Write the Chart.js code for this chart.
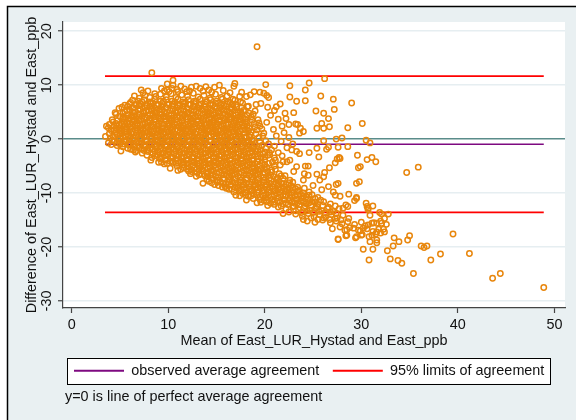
<!DOCTYPE html>
<html>
<head>
<meta charset="utf-8">
<script src="https://cdn.jsdelivr.net/npm/chart.js@4.4.1/dist/chart.umd.min.js"></script>
<style>
  html, body { margin: 0; padding: 0; background: #ffffff; }
  #wrap { width: 576px; height: 420px; position: relative; }
</style>
</head>
<body>
<div id="wrap"><canvas id="baChart" width="576" height="420"></canvas></div>
<script>
/*** Bland-Altman: East_LUR_Hystad vs East_ppb */
var meanDiff = -0.95;
var loaUpper = 11.67;
var loaLower = -13.58;
var meanRange = [3.45, 48.9];
var xTicks = [0, 10, 20, 30, 40, 50];
var yTicks = [-30, -20, -10, 0, 10, 20];
var legendNames = ['observed average agreement', '95% limits of agreement'];
var noteText = 'y=0 is line of perfect average agreement';

// [mean, difference] pairs
var edgeUpper = [
  [7.2,9.1],[7.4,8.6],[7.9,8.9],[8.6,8.4],[9.3,9.4],[9.6,8.9],[9.9,10.2],[10.5,10.9],[10.5,10.0],[10.9,9.2],
  [11.3,9.8],[11.9,8.8],[12.4,9.6],[12.9,9.8],[13.6,8.9],[14.2,9.1],[14.8,9.6],[15.3,10.0],[15.7,9.0],[16.4,8.6],
  [16.8,9.8],[16.9,10.3],[17.6,8.7],[18.1,7.9],[18.5,8.2],[9.9,9.1],[10.4,9.4],[11.0,8.8],[11.7,9.3],[12.2,8.9],
  [13.3,9.4],[13.9,9.7],[14.5,8.7],[10.1,8.8],[8.3,12.3]
];

var rowsMain = [
  [6.5,8.0],[7.0,7.6],[7.6,8.1],[8.1,7.7],[8.7,7.9],[9.2,8.3],[9.8,7.8],[10.3,8.4],[10.8,7.7],[11.4,8.2],
  [12.0,7.9],[12.6,8.5],[13.1,7.8],[13.7,8.1],[14.3,7.6],[14.9,8.3],[15.5,7.7],[16.1,8.0],[16.7,7.4],[17.4,7.9],
  [5.5,6.3],[6.1,6.8],[6.7,6.4],[7.3,6.9],[7.8,6.2],[8.4,6.7],[9.0,6.4],[9.5,7.0],[10.1,6.5],[10.7,6.9],
  [11.2,6.3],[11.8,6.8],[12.3,6.4],[12.9,7.0],[13.4,6.5],[14.0,6.9],[14.6,6.3],[15.2,6.7],[15.8,6.2],[16.4,6.8],
  [17.0,6.4],[17.7,6.7],[18.3,6.1],
  [4.9,5.7],[5.5,5.1],[6.0,5.4],[6.6,5.0],[7.1,5.6],[7.7,5.2],[8.3,5.5],[8.8,4.9],[9.4,5.4],[9.9,5.0],
  [10.5,5.6],[11.0,5.1],[11.6,5.5],[12.1,4.9],[12.7,5.3],[13.2,5.7],[13.8,5.0],[14.4,5.4],[14.9,4.9],[15.5,5.5],
  [16.1,5.1],[16.6,5.6],[17.2,4.9],[17.8,5.3],[18.4,4.8],[19.0,5.2],
  [4.5,4.9],[5.0,4.2],[5.6,3.9],[6.2,4.4],[6.7,3.8],[7.3,4.3],[7.8,3.9],[8.4,4.5],[9.0,3.9],[9.5,4.2],
  [10.1,3.8],[10.6,4.4],[11.2,4.0],[11.7,4.5],[12.3,3.8],[12.8,4.2],[13.4,3.9],[14.0,4.4],[14.5,3.8],[15.1,4.3],
  [15.7,3.9],[16.2,4.4],[16.8,3.8],[17.4,4.2],[18.0,3.7],[18.6,4.1],[19.3,3.6],
  [3.9,2.7],[4.3,3.2],[4.9,2.6],[5.4,3.1],[6.0,2.8],[6.5,3.3],[7.1,2.7],[7.6,3.0],[8.2,2.6],[8.7,3.2],
  [9.3,2.8],[9.8,3.3],[10.4,2.7],[10.9,3.1],[11.5,2.6],[12.0,3.2],[12.6,2.8],[13.1,3.3],[13.7,2.7],[14.3,3.0],
  [14.8,2.6],[15.4,3.2],[16.0,2.7],[16.5,3.1],[17.1,2.6],[17.7,3.0],[18.2,2.5],[18.9,2.9],[19.5,2.4],
  [3.6,2.4],[4.1,1.6],[4.6,2.0],[5.2,1.5],[5.7,1.9],[6.3,1.4],[6.8,2.0],[7.4,1.6],[7.9,2.1],[8.5,1.5],
  [9.0,1.9],[9.6,1.4],[10.2,2.0],[10.7,1.6],[11.3,2.1],[11.8,1.5],[12.4,1.9],[12.9,1.4],[13.5,2.0],[14.1,1.6],
  [14.6,2.1],[15.2,1.5],[15.7,1.9],[16.3,1.4],[16.9,2.0],[17.4,1.5],[18.0,1.8],[18.6,1.3],[19.2,1.7],[19.9,1.1],
  [3.5,0.5],[4.0,0.2],[4.7,0.8],[5.3,0.3],[5.9,0.7],[6.4,0.2],[7.0,0.8],[7.5,0.4],[8.1,0.9],[8.6,0.3],
  [9.2,0.7],[9.7,0.2],[10.3,0.8],[10.8,0.4],[11.4,0.9],[11.9,0.3],[12.5,0.7],[13.0,0.2],[13.6,0.8],[14.2,0.4],
  [14.7,0.9],[15.3,0.3],[15.9,0.7],[16.4,0.2],[17.0,0.6],[17.6,0.1],[18.1,0.5],[18.7,-0.1],[19.4,0.3],[20.1,-0.3],
  [3.8,-0.7],[4.4,-0.4],[5.0,-0.9],[5.6,-0.5],[6.1,-1.0],[6.7,-0.6],[7.2,-0.9],[7.8,-0.4],[8.3,-1.0],[8.9,-0.5],
  [9.4,-0.8],[10.0,-0.4],[10.5,-1.0],[11.1,-0.6],[11.6,-0.9],[12.2,-0.4],[12.7,-1.0],[13.3,-0.5],[13.8,-0.8],[14.4,-0.4],
  [15.0,-1.0],[15.5,-0.6],[16.1,-0.9],[16.6,-0.5],[17.2,-1.0],[17.8,-0.6],[18.4,-1.1],[19.0,-0.8],[19.7,-1.2],[20.4,-0.9],
  [21.0,-1.3],
  [5.1,-2.2],[5.8,-1.7],[6.4,-2.0],[7.0,-1.6],[7.5,-2.1],[8.1,-1.7],[8.6,-2.2],[9.2,-1.8],[9.7,-2.1],[10.3,-1.6],
  [10.8,-2.2],[11.4,-1.8],[11.9,-2.1],[12.5,-1.6],[13.0,-2.2],[13.6,-1.8],[14.1,-2.1],[14.7,-1.7],[15.2,-2.2],[15.8,-1.8],
  [16.4,-2.1],[16.9,-1.7],[17.5,-2.2],[18.1,-1.8],[18.7,-2.3],[19.3,-1.9],[20.0,-2.4],[20.7,-2.0],[21.4,-2.5],
  [7.8,-3.0],[8.3,-3.4],[8.9,-2.9],[9.4,-3.3],[10.0,-2.8],[10.5,-3.4],[11.1,-2.9],[11.6,-3.3],[12.2,-2.8],[12.7,-3.4],
  [13.3,-2.9],[13.9,-3.3],[14.4,-2.8],[15.0,-3.4],[15.5,-2.9],[16.1,-3.3],[16.7,-2.8],[17.2,-3.4],[17.8,-2.9],[18.4,-3.3],
  [19.0,-2.8],[19.6,-3.4],[20.3,-3.0],[21.0,-3.5],[21.8,-3.1],
  [8.2,-3.9],[9.0,-4.3],[9.6,-4.6],[10.2,-4.1],[10.8,-4.5],[11.3,-4.0],[11.9,-4.6],[12.4,-4.1],[13.0,-4.5],[13.5,-4.0],
  [14.1,-4.6],[14.7,-4.1],[15.2,-4.5],[15.8,-4.0],[16.4,-4.6],[16.9,-4.1],[17.5,-4.5],[18.1,-4.0],[18.7,-4.6],[19.3,-4.2],
  [20.0,-4.7],[20.8,-4.3],[21.6,-4.8],[22.3,-4.2],
  [10.2,-5.4],[11.0,-5.8],[11.6,-5.3],[12.1,-5.9],[12.7,-5.4],[13.2,-5.8],[13.8,-5.3],[14.4,-5.9],[14.9,-5.4],[15.5,-5.8],
  [16.1,-5.3],[16.6,-5.9],[17.2,-5.4],[17.8,-5.8],[18.4,-5.3],[19.0,-5.9],[19.6,-5.5],[20.3,-6.0],[21.1,-5.6],
  [12.3,-6.4],[12.9,-6.9],[13.5,-6.5],[14.1,-7.0],[14.6,-6.6],[15.2,-7.1],[15.8,-6.6],[16.3,-7.0],[16.9,-6.5],[17.5,-7.1],
  [18.1,-6.6],[18.7,-7.0],[19.3,-6.5],[19.9,-7.1],[20.6,-6.7],[21.3,-7.2],[22.1,-6.8],
  [13.6,-8.2],[14.2,-7.8],[14.8,-8.4],[15.4,-7.9],[16.0,-8.3],[16.6,-7.8],[17.2,-8.4],[17.8,-7.9],[18.4,-8.3],[19.0,-7.8],
  [19.6,-8.4],[20.2,-7.9],[20.9,-8.3],[21.5,-7.8],[22.2,-8.4],[22.9,-8.0],
  [15.6,-8.9],[16.3,-9.3],[16.9,-8.9],[17.5,-9.4],[18.1,-9.0],[18.7,-9.5],[19.3,-9.0],[19.9,-9.4],[20.5,-8.9],[21.1,-9.5],
  [21.7,-9.0],[22.3,-9.4],[22.9,-9.0],[23.5,-9.5],[24.1,-9.1],
  [17.0,-10.4],[17.7,-10.1],[18.3,-10.6],[18.9,-10.2],[19.5,-10.7],[20.1,-10.3],[20.7,-10.6],[21.3,-10.1],[21.9,-10.5],[22.5,-10.0],
  [23.1,-10.6],[23.7,-10.2],[24.3,-10.7],[24.9,-10.3],[25.5,-10.8],
  [19.2,-11.8],[19.9,-11.4],[20.6,-11.9],[21.3,-11.5],[21.9,-12.0],[22.5,-11.4],[23.1,-11.9],[23.7,-11.5],[24.3,-12.0],[24.9,-11.6],
  [25.5,-12.1],[26.1,-11.6],[26.8,-12.0],
  [21.4,-12.6],[22.2,-13.0],[22.9,-12.5],[23.5,-13.1],[24.1,-12.7],[24.7,-13.2],[25.3,-12.8],[25.9,-13.3],[26.5,-12.9],[27.1,-13.4],
  [27.7,-12.9],
  [23.2,-13.9],[23.9,-14.3],[24.5,-13.8],[25.1,-14.4],[25.7,-14.0],[26.3,-14.5],[26.9,-14.0],[27.5,-14.6],[28.1,-14.1],[28.7,-14.7],
  [24.4,-15.2],[25.2,-15.4],[26.0,-15.0],[26.8,-15.5],[27.4,-15.2],[28.0,-15.7],[28.6,-15.3],[29.3,-15.8],[30.0,-15.4],[30.7,-15.9],
  [31.3,-15.5],[32.0,-15.2],[32.6,-15.8],
  [27.0,-16.6],[27.8,-16.3],[28.5,-16.8],[29.2,-16.5],[29.9,-17.0],[30.6,-16.6],[31.2,-17.1],[31.8,-16.7],[32.4,-17.2],
  [27.6,-18.6],[28.4,-17.9],[29.4,-18.3],[30.1,-17.7],[30.8,-18.1],[31.5,-17.6],[32.0,-17.4]
];

var rowsOffset = [
  [6.3,7.2],[6.9,7.0],[7.5,7.3],[8.1,6.9],[8.6,7.4],[9.2,7.0],[9.8,7.3],[10.4,7.0],[11.0,7.4],[11.5,6.9],
  [12.1,7.3],[12.7,7.0],[13.3,7.4],[13.9,6.9],[14.4,7.3],[15.0,7.0],[15.6,7.4],[16.2,6.9],[16.9,7.2],[17.5,6.9],
  [5.2,5.9],[5.8,6.1],[6.4,5.8],[7.0,6.2],[7.6,5.8],[8.1,6.1],[8.7,5.7],[9.3,6.0],[9.8,5.8],[10.4,6.2],
  [10.9,5.8],[11.5,6.1],[12.0,5.7],[12.6,6.0],[13.1,5.8],[13.7,6.2],[14.3,5.7],[14.8,6.0],[15.4,5.8],[16.0,6.1],
  [16.5,5.7],[17.1,6.0],[17.6,5.8],[18.2,6.0],
  [4.6,4.6],[5.3,4.8],[5.8,4.5],[6.4,4.9],[7.0,4.6],[7.5,4.8],[8.1,4.5],[8.6,4.9],[9.2,4.6],[9.7,4.8],
  [10.3,4.5],[10.8,4.9],[11.4,4.6],[12.0,4.8],[12.5,4.5],[13.1,4.9],[13.6,4.6],[14.2,4.8],[14.7,4.5],[15.3,4.9],
  [15.9,4.6],[16.4,4.8],[17.0,4.5],[17.6,4.7],[18.2,4.4],[18.8,4.6],
  [4.2,3.6],[4.7,3.4],[5.3,3.7],[5.9,3.3],[6.4,3.6],[7.0,3.4],[7.5,3.7],[8.1,3.3],[8.6,3.6],[9.2,3.4],
  [9.7,3.7],[10.3,3.3],[10.8,3.6],[11.4,3.4],[11.9,3.7],[12.5,3.3],[13.0,3.6],[13.6,3.4],[14.2,3.7],[14.7,3.3],
  [15.3,3.6],[15.8,3.4],[16.4,3.7],[17.0,3.3],[17.5,3.6],[18.1,3.2],[18.7,3.5],[19.4,3.0],
  [3.8,2.1],[4.4,2.4],[5.0,2.1],[5.5,2.5],[6.1,2.2],[6.6,2.4],[7.2,2.1],[7.8,2.5],[8.3,2.2],[8.9,2.4],
  [9.4,2.1],[10.0,2.5],[10.5,2.2],[11.1,2.4],[11.6,2.1],[12.2,2.5],[12.7,2.2],[13.3,2.4],[13.9,2.1],[14.4,2.5],
  [15.0,2.2],[15.5,2.4],[16.1,2.1],[16.7,2.5],[17.2,2.2],[17.8,2.4],[18.4,2.0],[19.0,2.3],[19.7,1.9],
  [3.9,1.0],[4.5,1.2],[5.0,0.9],[5.6,1.3],[6.2,1.0],[6.7,1.2],[7.3,0.9],[7.8,1.3],[8.4,1.0],[8.9,1.2],
  [9.5,0.9],[10.0,1.3],[10.6,1.0],[11.2,1.2],[11.7,0.9],[12.3,1.3],[12.8,1.0],[13.4,1.2],[13.9,0.9],[14.5,1.3],
  [15.0,1.0],[15.6,1.2],[16.2,0.9],[16.7,1.3],[17.3,1.0],[17.9,1.2],[18.5,0.8],[19.1,1.0],[19.8,0.6],
  [4.2,-0.2],[4.8,0.0],[5.4,-0.3],[6.0,0.1],[6.5,-0.2],[7.1,0.0],[7.7,-0.3],[8.2,0.1],[8.8,-0.2],[9.3,0.0],
  [9.9,-0.3],[10.4,0.1],[11.0,-0.2],[11.5,0.0],[12.1,-0.3],[12.6,0.1],[13.2,-0.2],[13.7,0.0],[14.3,-0.3],[14.9,0.1],
  [15.4,-0.2],[16.0,0.0],[16.5,-0.3],[17.1,0.1],[17.7,-0.2],[18.3,-0.4],[18.9,-0.3],[19.5,-0.6],
  [4.7,-1.2],[5.3,-1.4],[5.9,-1.1],[6.5,-1.5],[7.0,-1.2],[7.6,-1.4],[8.1,-1.1],[8.7,-1.5],[9.2,-1.2],[9.8,-1.4],
  [10.3,-1.1],[10.9,-1.5],[11.4,-1.2],[12.0,-1.4],[12.5,-1.1],[13.1,-1.5],[13.6,-1.2],[14.2,-1.4],[14.7,-1.1],[15.3,-1.5],
  [15.9,-1.2],[16.4,-1.4],[17.0,-1.1],[17.6,-1.5],[18.2,-1.3],[18.8,-1.6],[19.4,-1.4],[20.1,-1.7],
  [6.6,-2.4],[7.3,-2.6],[7.9,-2.3],[8.4,-2.7],[9.0,-2.4],[9.5,-2.6],[10.1,-2.3],[10.6,-2.7],[11.2,-2.4],[11.7,-2.6],
  [12.3,-2.3],[12.8,-2.7],[13.4,-2.4],[13.9,-2.6],[14.5,-2.3],[15.0,-2.7],[15.6,-2.4],[16.2,-2.6],[16.7,-2.3],[17.3,-2.7],
  [17.9,-2.4],[18.5,-2.6],[19.1,-2.3],[19.8,-2.7],[20.5,-2.5],
  [9.1,-3.6],[9.7,-3.9],[10.3,-3.5],[10.8,-3.8],[11.4,-3.6],[11.9,-3.9],[12.5,-3.5],[13.0,-3.8],[13.6,-3.6],[14.2,-3.9],
  [14.7,-3.5],[15.3,-3.8],[15.8,-3.6],[16.4,-3.9],[17.0,-3.5],[17.5,-3.8],[18.1,-3.6],[18.7,-3.9],[19.3,-3.7],[20.0,-3.9],
  [10.9,-5.0],[11.5,-4.8],[12.0,-5.1],[12.6,-4.8],[13.2,-5.0],[13.7,-4.8],[14.3,-5.1],[14.8,-4.8],[15.4,-5.0],[16.0,-4.8],
  [16.5,-5.1],[17.1,-4.8],[17.7,-5.0],[18.2,-4.8],[18.8,-5.1],[19.5,-4.9],[20.2,-5.2],[21.0,-5.0],
  [12.4,-6.0],[13.0,-6.2],[13.6,-5.9],[14.1,-6.3],[14.7,-6.0],[15.3,-6.2],[15.9,-5.9],[16.4,-6.3],[17.0,-6.0],[17.6,-6.2],
  [18.2,-5.9],[18.8,-6.3],[19.4,-6.0],[20.0,-6.3],[20.7,-6.1],[21.5,-6.4],
  [14.0,-7.5],[14.5,-7.3],[15.1,-7.6],[15.7,-7.2],[16.3,-7.5],[16.9,-7.3],[17.5,-7.6],[18.1,-7.2],[18.7,-7.5],[19.3,-7.3],
  [19.9,-7.6],[20.5,-7.2],[21.2,-7.5],[21.9,-7.3],[22.6,-7.6],
  [15.2,-8.6],[15.9,-8.8],[16.5,-8.5],[17.2,-8.8],[17.8,-8.5],[18.4,-8.8],[19.0,-8.5],[19.6,-8.8],[20.2,-8.5],[20.8,-8.8],
  [21.4,-8.5],[22.0,-8.8],[22.7,-8.6],[23.4,-8.9],
  [16.8,-9.8],[17.4,-9.6],[18.0,-9.9],[18.6,-9.6],[19.2,-9.9],[19.8,-9.6],[20.4,-9.9],[21.0,-9.6],[21.6,-9.9],[22.2,-9.7],
  [22.8,-10.0],[23.4,-9.7],[24.0,-10.0],[24.6,-9.8],
  [18.1,-11.3],[18.8,-11.0],[19.5,-11.2],[20.1,-10.9],[20.8,-11.2],[21.4,-10.9],[22.0,-11.2],[22.6,-10.9],[23.3,-11.2],[23.9,-10.9],
  [24.5,-11.2],[25.2,-11.0],[25.8,-11.3],
  [20.3,-12.3],[21.0,-12.1],[21.7,-12.4],[22.4,-12.1],[23.0,-12.4],[23.6,-12.1],[24.2,-12.4],[24.8,-12.2],[25.4,-12.5],[26.0,-12.3],
  [26.6,-12.6],
  [22.5,-13.5],[23.2,-13.3],[23.8,-13.6],[24.4,-13.3],[25.0,-13.6],[25.6,-13.4],[26.2,-13.7],[26.8,-13.5],[27.4,-13.8],
  [24.0,-14.9],[24.8,-14.6],[25.5,-14.9],[26.1,-14.6],[26.7,-14.9],[27.3,-14.7],[27.9,-15.0],[21.9,-13.8]
];

var rowsFill = [
  [6.0,6.5],[6.6,6.3],[7.1,6.6],[7.7,6.4],[8.2,6.6],[8.8,6.3],[9.4,6.6],[9.9,6.4],[10.5,6.5],[11.0,6.3],
  [11.6,6.6],[12.1,6.4],[12.7,6.6],[13.2,6.3],[13.8,6.5],[14.4,6.4],[14.9,6.6],[15.5,6.3],[16.1,6.5],[16.7,6.3],
  [5.7,5.3],[6.3,5.1],[6.9,5.4],[7.4,5.1],[8.0,5.3],[8.5,5.2],[9.1,5.4],[9.6,5.1],[10.2,5.3],[10.7,5.2],
  [11.3,5.4],[11.8,5.1],[12.4,5.3],[12.9,5.2],[13.5,5.4],[14.1,5.1],[14.6,5.3],[15.2,5.2],[15.8,5.4],[16.3,5.1],
  [16.9,5.3],[17.5,5.1],
  [5.3,4.1],[5.9,3.9],[6.5,4.2],[7.0,4.0],[7.6,4.1],[8.1,3.9],[8.7,4.2],[9.2,4.0],[9.8,4.1],[10.4,3.9],
  [10.9,4.2],[11.5,4.0],[12.0,4.1],[12.6,3.9],[13.1,4.2],[13.7,4.0],[14.3,4.1],[14.8,3.9],[15.4,4.2],[16.0,4.0],
  [16.5,4.1],[17.1,3.9],[17.7,4.0],
  [4.6,2.9],[5.2,2.7],[5.7,3.0],[6.3,2.8],[6.8,2.9],[7.4,2.7],[7.9,3.0],[8.5,2.8],[9.0,2.9],[9.6,2.7],
  [10.1,3.0],[10.7,2.8],[11.2,2.9],[11.8,2.7],[12.3,3.0],[12.9,2.8],[13.4,2.9],[14.0,2.7],[14.6,3.0],[15.1,2.8],
  [15.7,2.9],[16.2,2.7],[16.8,3.0],[17.4,2.8],[18.0,2.9],
  [4.4,1.7],[4.9,1.5],[5.5,1.8],[6.0,1.6],[6.6,1.7],[7.1,1.5],[7.7,1.8],[8.2,1.6],[8.8,1.7],[9.3,1.5],
  [9.9,1.8],[10.4,1.6],[11.0,1.7],[11.5,1.5],[12.1,1.8],[12.6,1.6],[13.2,1.7],[13.8,1.5],[14.3,1.8],[14.9,1.6],
  [15.4,1.7],[16.0,1.5],[16.6,1.8],[17.1,1.6],[17.7,1.7],[18.3,1.5],
  [4.3,0.5],[5.0,0.3],[5.6,0.6],[6.1,0.4],[6.7,0.5],[7.2,0.3],[7.8,0.6],[8.3,0.4],[8.9,0.5],[9.4,0.3],
  [10.0,0.6],[10.5,0.4],[11.1,0.5],[11.6,0.3],[12.2,0.6],[12.7,0.4],[13.3,0.5],[13.9,0.3],[14.4,0.6],[15.0,0.4],
  [15.6,0.5],[16.1,0.3],[16.7,0.6],[17.3,0.4],[17.9,0.2],[18.4,0.4],
  [4.1,-1.0],[4.7,-0.7],[5.3,-0.9],[5.9,-0.8],[6.4,-0.9],[7.0,-0.7],[7.5,-1.0],[8.0,-0.8],[8.6,-0.9],[9.1,-0.7],
  [9.7,-1.0],[10.2,-0.8],[10.8,-0.9],[11.3,-0.7],[11.9,-1.0],[12.4,-0.8],[13.0,-0.9],[13.5,-0.7],[14.1,-1.0],[14.7,-0.8],
  [15.2,-0.9],[15.8,-0.7],[16.3,-1.0],[16.9,-0.8],[17.5,-0.9],[18.1,-0.7],[18.7,-1.0],
  [6.1,-1.9],[6.7,-2.1],[7.3,-1.9],[7.8,-2.0],[8.4,-1.9],[8.9,-2.1],[9.5,-1.9],[10.0,-2.0],[10.6,-1.9],[11.1,-2.1],
  [11.7,-1.9],[12.2,-2.0],[12.8,-1.9],[13.3,-2.1],[13.9,-1.9],[14.4,-2.0],[15.0,-1.9],[15.5,-2.1],[16.1,-1.9],[16.7,-2.0],
  [17.2,-1.9],[17.8,-2.1],[18.4,-1.9],[19.0,-2.1],[19.6,-2.0],
  [8.6,-3.1],[9.2,-3.3],[9.7,-3.1],[10.3,-3.2],[10.8,-3.1],[11.4,-3.3],[11.9,-3.1],[12.5,-3.2],[13.0,-3.1],[13.6,-3.3],
  [14.1,-3.1],[14.7,-3.2],[15.3,-3.1],[15.8,-3.3],[16.4,-3.1],[16.9,-3.2],[17.5,-3.1],[18.1,-3.3],[18.7,-3.1],[19.3,-3.2],
  [20.0,-3.3],
  [9.3,-4.3],[9.9,-4.5],[10.5,-4.3],[11.0,-4.4],[11.6,-4.3],[12.1,-4.5],[12.7,-4.3],[13.2,-4.4],[13.8,-4.3],[14.4,-4.5],
  [14.9,-4.3],[15.5,-4.4],[16.1,-4.3],[16.6,-4.5],[17.2,-4.3],[17.8,-4.4],[18.4,-4.3],[19.0,-4.5],[19.7,-4.4],[20.4,-4.5],
  [11.3,-5.6],[11.9,-5.5],[12.4,-5.7],[13.0,-5.5],[13.5,-5.6],[14.1,-5.5],[14.6,-5.7],[15.2,-5.5],[15.8,-5.6],[16.3,-5.5],
  [16.9,-5.7],[17.5,-5.5],[18.1,-5.6],[18.7,-5.5],[19.3,-5.7],[20.0,-5.6],[20.7,-5.7],
  [13.2,-6.6],[13.8,-6.8],[14.4,-6.7],[14.9,-6.9],[15.5,-6.7],[16.1,-6.8],[16.6,-6.7],[17.2,-6.9],[17.8,-6.7],[18.4,-6.8],
  [19.0,-6.7],[19.6,-6.9],[20.3,-6.8],[20.9,-6.9],[21.7,-6.8],
  [14.5,-8.1],[15.1,-8.0],[15.7,-8.2],[16.3,-8.0],[16.9,-8.1],[17.5,-8.0],[18.1,-8.2],[18.7,-8.0],[19.3,-8.1],[19.9,-8.0],
  [20.5,-8.2],[21.2,-8.1],[21.8,-8.2],[22.5,-8.1],
  [16.0,-9.1],[16.6,-9.3],[17.2,-9.1],[17.8,-9.2],[18.4,-9.3],[19.0,-9.2],[19.6,-9.1],[20.2,-9.3],[20.8,-9.2],[21.4,-9.3],
  [22.0,-9.2],[22.6,-9.3],[23.2,-9.2],
  [17.4,-10.5],[18.0,-10.3],[18.6,-10.5],[19.2,-10.4],[19.8,-10.5],[20.4,-10.4],[21.0,-10.4],[21.6,-10.3],[22.2,-10.5],[22.8,-10.4],
  [23.4,-10.4],[24.0,-10.5],[24.6,-10.4],
  [19.6,-11.7],[20.2,-11.6],[20.9,-11.7],[21.6,-11.6],[22.2,-11.8],[22.8,-11.7],[23.4,-11.8],[24.0,-11.7],[24.6,-11.8],[25.2,-11.7]
];

var scatterUpper = [
  [19.2,17.1],
  [20.1,10.1],[22.6,9.9],[24.6,10.4],[26.2,11.2],[18.9,8.8],[19.5,8.7],[19.9,8.5],[20.2,8.1],[20.4,7.7],[22.6,7.8],
  [24.2,9.1],[25.8,8.0],[27.1,7.4],[29.0,6.7],[23.3,7.0],[24.2,7.1],[19.1,6.4],[21.2,6.0],[21.6,6.5],[23.0,4.9],
  [25.3,5.2],[26.1,4.8],[26.6,3.8],[27.2,5.5],[22.1,4.8],[22.2,3.8],[22.5,2.7],[23.2,2.8],[23.4,2.7],[25.9,2.9],
  [25.4,2.0],[26.1,2.0],[26.7,2.3],[28.6,2.1],[30.1,2.9],[23.7,2.0],[24.0,1.4],[23.6,1.1],[27.4,0.0],[28.0,0.2],
  [26.1,-0.3],[30.5,-0.2],[30.9,-0.7],[27.6,-1.5],[26.6,-1.5],[26.4,-1.9],[25.4,-1.7],[28.6,-1.4],[24.6,-2.5],[23.6,-2.7],
  [22.8,-2.0],[29.6,-3.0],[30.6,-3.8],[31.5,-4.2],[31.1,-3.4],[27.8,-3.6],[27.3,-4.4],[26.7,-5.3],[29.9,-5.1],[29.7,-5.3],
  [24.2,-5.0],[24.5,-5.0],[23.3,-5.1],[22.6,-3.9],[21.9,-4.2],[21.1,-3.9],[25.6,-3.3],[26.2,-6.2],[25.4,-6.5],[24.5,-6.7],
  [27.5,-3.7],[27.7,-3.4],[29.5,-8.2],[29.8,-7.9],[27.6,-8.2],[27.4,-8.4],[34.7,-6.2],[35.9,-5.2],
  [19.6,6.6],[20.3,5.9],[21.0,5.3],[20.6,4.4],[21.4,3.7],[20.2,3.1],[21.8,2.4],[20.9,1.8],[22.0,1.2],[21.2,0.6],
  [22.5,0.3],[21.7,-0.4],[22.9,-0.9],[22.3,-1.6],[23.3,-2.3],[20.5,-2.9],
  [23.0,-6.0],[24.1,-6.4],[24.0,-7.6],[25.7,-7.6],[26.1,-7.0],[26.6,-8.8],[25.0,-8.6],[25.9,-9.4],[27.1,-9.8]
];

var scatterLower = [
  [27.3,-10.4],[27.8,-10.6],[28.7,-10.2],[28.4,-12.2],[28.6,-12.5],[29.5,-11.0],[29.3,-11.4],[30.5,-11.9],[30.7,-12.8],[29.5,-10.8],
  [30.6,-12.5],[31.2,-12.4],[27.3,-12.4],[28.1,-12.8],[30.7,-13.1],[30.9,-14.1],[31.9,-13.6],[32.1,-13.9],[32.8,-13.9],[32.4,-14.7],
  [31.6,-15.6],[31.1,-15.6],[30.4,-16.1],[32.1,-15.6],[32.3,-16.7],[31.6,-17.2],[31.1,-17.8],[30.2,-16.5],[29.7,-16.9],[30.0,-17.8],
  [29.5,-18.1],[28.8,-16.4],[28.3,-16.9],[28.5,-17.8],[27.6,-18.5],[33.4,-18.3],[33.9,-19.0],[34.8,-18.7],[35.0,-17.9],[33.3,-19.8],
  [32.7,-20.7],[31.6,-18.7],[31.6,-19.2],[30.9,-19.0],[30.2,-20.4],[31.2,-20.4],[30.8,-22.4],[33.0,-22.2],[33.8,-22.5],[34.2,-23.0],
  [35.4,-24.9],[36.2,-19.8],[36.5,-20.1],[36.8,-19.8],[37.2,-22.4],[38.2,-21.3],[39.5,-17.6],[41.2,-21.2],[43.6,-25.8],[44.4,-24.9],
  [48.9,-27.5]
];

var pointColor = '#e8860c';
var meanColor = '#7e0a80';
var limitColor = '#ff0000';
var zeroColor = '#5a8c8a';
var gridColor = '#e6eef1';
var panelColor = '#e9f0f2';
var textColor = '#111111';
var fontSize = 14.4;

Chart.defaults.font.family = "'Liberation Sans', Arial, sans-serif";
Chart.defaults.font.size = fontSize;
Chart.defaults.color = textColor;

function hLine(y) {
  return [[meanRange[0], y], [meanRange[1], y]];
}

var allPoints = [].concat(edgeUpper, rowsMain, rowsOffset, rowsFill, scatterUpper, scatterLower);

// background panel, legend frame and footnote
var framePlugin = {
  id: 'frame',
  afterLayout: function(chart) {
    var lg = chart.legend;
    var pad = lg.options.labels.padding;
    lg.left = chart.chartArea.left + 11 - pad;
    lg.right = lg.left + 620;
  },
  beforeDraw: function(chart) {
    var ctx = chart.ctx;
    var a = chart.chartArea;
    var w = chart.width, h = chart.height;
    ctx.save();
    ctx.fillStyle = '#ffffff';
    ctx.fillRect(0, 0, w, h);
    ctx.fillStyle = panelColor;
    ctx.fillRect(7, 6, w - 7, h - 6);
    ctx.strokeStyle = '#000000';
    ctx.lineWidth = 1.5;
    ctx.beginPath();
    ctx.moveTo(7.5, h);
    ctx.lineTo(7.5, 6.5);
    ctx.lineTo(w, 6.5);
    ctx.stroke();
    ctx.fillStyle = '#ffffff';
    ctx.fillRect(a.left, a.top, a.right - a.left, a.bottom - a.top);

    var hb = chart.legend.legendHitBoxes;
    if (hb && hb.length) {
      var first = hb[0], last = hb[hb.length - 1];
      var x0 = first.left - 7;
      var x1 = last.left + last.width + 6;
      var yc = first.top + first.height / 2;
      ctx.fillStyle = '#ffffff';
      ctx.fillRect(x0, yc - 13, x1 - x0, 26);
      ctx.strokeStyle = '#000000';
      ctx.lineWidth = 1;
      ctx.strokeRect(Math.round(x0) + 0.5, Math.round(yc - 13) + 0.5, Math.round(x1 - x0), 26);
    }

    ctx.fillStyle = textColor;
    ctx.font = fontSize + "px 'Liberation Sans', Arial, sans-serif";
    ctx.textBaseline = 'middle';
    ctx.textAlign = 'left';
    ctx.fillText(noteText, a.left + 2, 397);
    ctx.restore();
  }
};

var ctx = document.getElementById('baChart').getContext('2d');
var baChart = new Chart(ctx, {
  type: 'scatter',
  data: {
    datasets: [
      {
        label: 'difference',
        data: allPoints,
        pointRadius: 2.7,
        pointBorderWidth: 1.5,
        borderColor: pointColor,
        backgroundColor: 'rgba(0,0,0,0)',
        order: 0
      },
      {
        label: legendNames[0],
        data: hLine(meanDiff),
        showLine: true,
        pointRadius: 0,
        borderColor: meanColor,
        backgroundColor: meanColor,
        borderWidth: 1.6,
        order: 1
      },
      {
        label: legendNames[1],
        data: hLine(loaUpper),
        showLine: true,
        pointRadius: 0,
        borderColor: limitColor,
        backgroundColor: limitColor,
        borderWidth: 1.6,
        order: 1
      },
      {
        label: 'lower limit',
        data: hLine(loaLower),
        showLine: true,
        pointRadius: 0,
        borderColor: limitColor,
        backgroundColor: limitColor,
        borderWidth: 1.6,
        order: 1
      }
    ]
  },
  options: {
    responsive: false,
    animation: false,
    events: [],
    layout: { padding: { left: 8, right: 11, top: 22, bottom: 32 } },
    scales: {
      x: {
        type: 'linear',
        min: -0.9,
        max: 51.1,
        afterFit: function(s) { s.height = 42; },
        afterBuildTicks: function(s) { s.ticks = xTicks.map(function(v) { return { value: v }; }); },
        border: { display: true, color: '#444444', width: 1.2 },
        grid: { drawOnChartArea: false, drawTicks: true, tickLength: 5, tickColor: '#444444', tickWidth: 1.2 },
        ticks: { padding: 3, color: textColor, maxRotation: 0 },
        title: {
          display: true,
          text: 'Mean of East_LUR_Hystad and East_ppb',
          color: textColor,
          padding: { top: 0, bottom: 0.5 }
        }
      },
      y: {
        type: 'linear',
        min: -31.3,
        max: 21.7,
        afterFit: function(s) { s.width = 55; },
        afterBuildTicks: function(s) { s.ticks = yTicks.map(function(v) { return { value: v }; }); },
        border: { display: true, color: '#444444', width: 1.2 },
        grid: {
          color: function(c) { return (c.tick && c.tick.value === 0) ? zeroColor : gridColor; },
          lineWidth: 1.5,
          drawTicks: true,
          tickLength: 5,
          tickColor: '#444444',
          tickWidth: 1.2
        },
        ticks: { padding: 1, color: textColor, minRotation: 90, maxRotation: 90, crossAlign: 'center' },
        title: {
          display: true,
          text: 'Difference of East_LUR_Hystad and East_ppb',
          color: textColor,
          padding: { top: 15.4, bottom: 0 }
        }
      }
    },
    plugins: {
      tooltip: { enabled: false },
      legend: {
        display: true,
        position: 'bottom',
        align: 'start',
        labels: {
          boxWidth: 50,
          boxHeight: 2,
          padding: 13.6,
          color: textColor,
          font: { size: fontSize },
          generateLabels: function() {
            var cols = [meanColor, limitColor];
            return legendNames.map(function(text, i) {
              return { text: text, fillStyle: cols[i], strokeStyle: cols[i], lineWidth: 0, hidden: false, fontColor: textColor };
            });
          }
        }
      }
    }
  },
  plugins: [framePlugin]
});
</script>
</body>
</html>
